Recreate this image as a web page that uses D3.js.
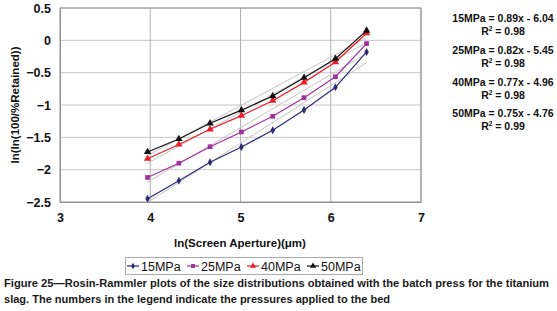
<!DOCTYPE html>
<html><head><meta charset="utf-8">
<script src="https://cdn.jsdelivr.net/npm/d3@7/dist/d3.min.js"></script>
<style>
body{margin:0;background:#fff;}
svg{display:block;font-family:"Liberation Sans",Arial,sans-serif;}
</style></head>
<body><svg id="c" width="557" height="311"></svg>
<script>
const xValues = [3.97, 4.317, 4.663, 5.01, 5.357, 5.704, 6.052, 6.397];
const seriesNames = ["15MPa", "25MPa", "40MPa", "50MPa"];
const s15 = [-2.45, -2.17, -1.885, -1.65, -1.39, -1.077, -0.727, -0.18];
const s25 = [-2.12, -1.90, -1.645, -1.417, -1.175, -0.887, -0.563, -0.05];
const s40 = [-1.83, -1.61, -1.375, -1.165, -0.933, -0.65, -0.335, 0.11];
const s50 = [-1.726, -1.525, -1.283, -1.08, -0.861, -0.578, -0.284, 0.15];
const slopes = [0.89, 0.82, 0.77, 0.75];
const intercepts = [-6.04, -5.45, -4.96, -4.76];
const r2 = ["0.98", "0.98", "0.98", "0.99"];
const xTicks = [3, 4, 5, 6, 7];
const yTicks = [0.5, 0, -0.5, -1, -1.5, -2, -2.5];
const xLabel = "ln(Screen Aperture)(μm)";
const yLabel = "ln(ln(100/%Retained))";
const caption1 = "Figure 25—Rosin-Rammler plots of the size distributions obtained with the batch press for the titanium";
const caption2 = "slag. The numbers in the legend indicate the  pressures applied to the bed";

const colors = ["#2b2b7a", "#a0309e", "#ee1c24", "#111111"];
const shapes = [d3.symbolDiamond, d3.symbolSquare, d3.symbolTriangle, d3.symbolTriangle];
const symSizes = [18, 22, 24, 24];
const allSeries = [s15, s25, s40, s50];

const svg = d3.select("#c");
const x = d3.scaleLinear().domain([3, 7]).range([60, 421]);
const y = d3.scaleLinear().domain([-2.5, 0.5]).range([202, 8]);

// gridlines
svg.append("g").selectAll("line").data(yTicks.filter(v => v > -2.5)).join("line")
  .attr("x1", x(3)).attr("x2", x(7)).attr("y1", d => y(d)).attr("y2", d => y(d))
  .attr("stroke", "#c8c8c8").attr("stroke-width", 1);
svg.append("g").selectAll("line").data(xTicks.filter(v => v > 3)).join("line")
  .attr("x1", d => x(d)).attr("x2", d => x(d)).attr("y1", y(0.5)).attr("y2", y(-2.5))
  .attr("stroke", "#b0b0b0").attr("stroke-width", 1);
svg.append("rect").attr("x", x(3)).attr("y", y(0.5)).attr("width", x(7) - x(3)).attr("height", y(-2.5) - y(0.5))
  .attr("fill", "none").attr("stroke", "#909090").attr("stroke-width", 1);

// axes
const yAxis = d3.axisLeft(y).tickValues(yTicks).tickSize(0).tickPadding(9).tickFormat(d => d3.format("")(d));
const yg = svg.append("g").attr("transform", `translate(${x(3)},0)`).call(yAxis);
yg.select(".domain").attr("stroke", "#909090");
yg.selectAll("text").attr("font-size", 12.5).attr("font-weight", "bold").attr("fill", "#111").attr("font-family", "Liberation Sans, Arial, sans-serif");

const xAxis = d3.axisBottom(x).tickValues(xTicks).tickSize(0).tickPadding(11).tickFormat(d3.format("d"));
const xg = svg.append("g").attr("transform", `translate(0,${y(-2.5)})`).call(xAxis);
xg.select(".domain").attr("stroke", "#909090");
xg.selectAll("text").attr("font-size", 12.5).attr("font-weight", "bold").attr("fill", "#111").attr("font-family", "Liberation Sans, Arial, sans-serif");

// trendlines
const x0 = d3.min(xValues), x1 = d3.max(xValues);
svg.append("g").selectAll("line").data(slopes).join("line")
  .attr("x1", x(x0)).attr("x2", x(x1))
  .attr("y1", (m, i) => y(m * x0 + intercepts[i])).attr("y2", (m, i) => y(m * x1 + intercepts[i]))
  .attr("stroke", "#c4c4c4").attr("stroke-width", 1);

// series
const line = d3.line().x(d => x(d[0])).y(d => y(d[1]));
allSeries.forEach((s, i) => {
  const pts = xValues.map((xv, j) => [xv, s[j]]);
  const g = svg.append("g");
  g.append("path").datum(pts).attr("d", line).attr("fill", "none").attr("stroke", colors[i]).attr("stroke-width", 1.2);
  g.selectAll("path.m").data(pts).join("path").attr("class", "m")
    .attr("transform", d => `translate(${x(d[0])},${y(d[1])})`)
    .attr("d", d3.symbol().type(shapes[i]).size(symSizes[i])).attr("fill", colors[i]);
});

// equations
const eq = svg.append("g").attr("font-size", 10.5).attr("font-weight", "bold").attr("fill", "#111").attr("text-anchor", "middle");
const eqY = [22, 54, 86, 117];
seriesNames.forEach((n, i) => {
  eq.append("text").attr("x", 503).attr("y", eqY[i])
    .text(`${n} = ${slopes[i].toFixed(2)}x - ${Math.abs(intercepts[i]).toFixed(2)}`);
  const t = eq.append("text").attr("x", 503).attr("y", eqY[i] + 13);
  t.append("tspan").text("R");
  t.append("tspan").attr("font-size", 6.5).attr("dy", -4).text("2");
  t.append("tspan").attr("dy", 4).text(` = ${r2[i]}`);
});

// axis labels
svg.append("text").attr("x", 240).attr("y", 247).attr("text-anchor", "middle")
  .attr("font-size", 11.5).attr("font-weight", "bold").attr("fill", "#111").text(xLabel);
svg.append("text").attr("transform", "translate(19,105) rotate(-90)").attr("text-anchor", "middle")
  .attr("font-size", 11.5).attr("font-weight", "bold").attr("fill", "#111").text(yLabel);

// legend
const lg = svg.append("g");
lg.append("rect").attr("x", 125.5).attr("y", 257.5).attr("width", 237).attr("height", 17)
  .attr("fill", "#fff").attr("stroke", "#aaa").attr("stroke-width", 1);
const legX = [127, 187, 247, 307];
seriesNames.forEach((n, i) => {
  const cx = legX[i];
  lg.append("line").attr("x1", cx).attr("x2", cx + 12).attr("y1", 266).attr("y2", 266).attr("stroke", colors[i]).attr("stroke-width", 1.2);
  lg.append("path").attr("transform", `translate(${cx + 6},266)`).attr("d", d3.symbol().type(shapes[i]).size(symSizes[i] * 0.7)).attr("fill", colors[i]);
  lg.append("text").attr("x", cx + 14).attr("y", 270.5).attr("font-size", 12.5).attr("fill", "#111").text(n);
});

// caption (narrow face so the natural width fits the page)
const capFont = "'Liberation Sans Narrow', 'Arial Narrow', 'Liberation Sans', sans-serif";
svg.append("text").attr("x", 4).attr("y", 287).attr("font-size", 11).attr("font-weight", "bold").attr("fill", "#1a1a1a")
  .attr("font-family", capFont)
  .attr("textLength", 545).attr("lengthAdjust", "spacingAndGlyphs").text(caption1);
svg.append("text").attr("x", 4).attr("y", 303).attr("font-size", 11).attr("font-weight", "bold").attr("fill", "#1a1a1a")
  .attr("font-family", capFont)
  .attr("textLength", 386).attr("lengthAdjust", "spacingAndGlyphs").text(caption2);
</script></body></html>
